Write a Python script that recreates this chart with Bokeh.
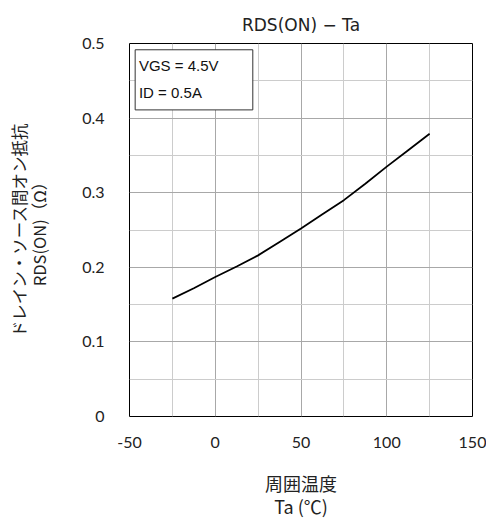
from bokeh.plotting import figure
from bokeh.models import FixedTicker, Range1d, Label, BoxAnnotation
from bokeh.embed import file_html
from bokeh.resources import INLINE

# data
ta = [-25, -12.5, 0, 12.5, 25, 37.5, 50, 62.5, 75, 87.5, 100, 112.5, 125]
rds_on = [0.158, 0.172, 0.187, 0.201, 0.216, 0.234, 0.252, 0.271, 0.290,
          0.312, 0.335, 0.357, 0.379]

x_ticks = [-50, 0, 50, 100, 150]
x_tick_labels = ["-50", "0", "50", "100", "150"]
x_minor = [-25, 25, 75, 125]
y_ticks = [0, 0.1, 0.2, 0.3, 0.4, 0.5]
y_tick_labels = ["0", "0.1", "0.2", "0.3", "0.4", "0.5"]
y_minor = [0.05, 0.15, 0.25, 0.35, 0.45]

title_text = "RDS(ON) − Ta"
x_label = "周囲温度\nTa (℃)"
y_label = "ドレイン・ソース間オン抵抗\nRDS(ON)（Ω）"
cond_lines = ["VGS = 4.5V", "ID = 0.5A"]

JP = "Noto Sans CJK JP"
NUM = "Lato"

p = figure(frame_width=343, frame_height=373, output_backend="svg",
           toolbar_location=None,
           x_range=Range1d(-50, 150), y_range=Range1d(0, 0.5),
           min_border_left=129, min_border_top=43, min_border_right=14,
           min_border_bottom=96)

p.title.text = title_text
p.title.align = "center"
p.title.text_font = "DejaVu Sans"
p.title.text_font_size = "17px"
p.title.text_font_style = "normal"
p.title.text_color = "#222222"
p.title.offset = 0
p.title.standoff = 18

p.outline_line_color = "black"
p.outline_line_width = 1
p.background_fill_color = "white"
p.border_fill_color = "white"

p.xaxis.ticker = FixedTicker(ticks=x_ticks, minor_ticks=x_minor)
p.yaxis.ticker = FixedTicker(ticks=y_ticks, minor_ticks=y_minor)
p.xaxis.major_label_overrides = {t: s for t, s in zip(x_ticks, x_tick_labels)}
p.yaxis.major_label_overrides = {t: s for t, s in zip(y_ticks, y_tick_labels)}

for ax in (p.xaxis[0], p.yaxis[0]):
    ax.axis_line_color = None
    ax.major_tick_line_color = None
    ax.minor_tick_line_color = None
    ax.major_label_text_font = NUM
    ax.major_label_text_font_size = "16px"
    ax.major_label_text_color = "#222222"
    ax.axis_label_text_font = JP
    ax.axis_label_text_font_style = "normal"
    ax.axis_label_text_color = "#222222"

p.xaxis.axis_label = x_label
p.yaxis.axis_label = y_label
p.xaxis.axis_label_text_font_size = "18px"
p.yaxis.axis_label_text_font_size = "16.5px"
p.xaxis.axis_label_text_line_height = 0.885
p.yaxis.axis_label_text_line_height = 0.86
p.xaxis.major_label_standoff = 14
p.yaxis.major_label_standoff = 19
p.xaxis.axis_label_standoff = 19
p.yaxis.axis_label_standoff = 28

p.xgrid.grid_line_color = "#a8a8a8"
p.ygrid.grid_line_color = "#a8a8a8"
p.xgrid.minor_grid_line_color = "#cccccc"
p.ygrid.minor_grid_line_color = "#cccccc"

p.line(ta, rds_on, line_color="black", line_width=1.8)

# condition box
box = BoxAnnotation(left=-46.7, right=21.9, top=0.4916, bottom=0.411,
                    fill_color="white", fill_alpha=1.0,
                    line_color="#333333", line_width=1, line_alpha=1.0)
p.add_layout(box)
for i, t in enumerate(cond_lines):
    p.add_layout(Label(x=-44.5, y=0.4705 - i * 0.036, text=t,
                       text_font="Liberation Sans", text_font_size="15px",
                       text_baseline="middle", text_align="left",
                       text_color="#111111"))

open("out.html", "w").write(file_html(p, INLINE))
